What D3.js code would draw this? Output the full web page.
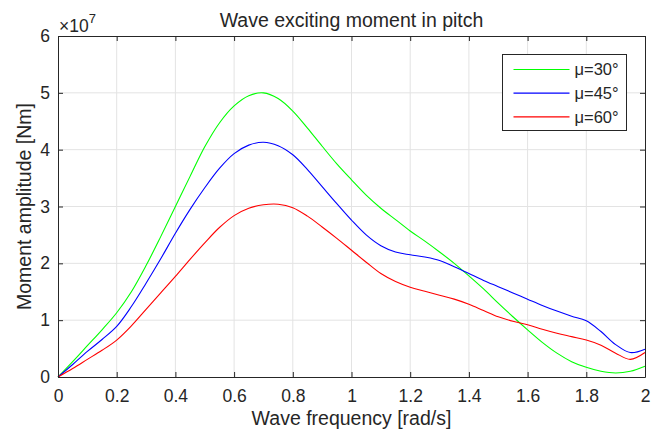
<!DOCTYPE html>
<head>
  <meta charset="utf-8">
  <script src="https://d3js.org/d3.v7.min.js"></script>
  <style>
    body { margin: 0; background: #fff; }
    svg text { font-family: "Liberation Sans", Arial, sans-serif; fill: #262626; }
  </style>
</head>
<body>
<div id="root"></div>
<script>
// frequency [rad/s], 0 to 2 in steps of 0.05
var freq = [0, 0.05, 0.1, 0.15, 0.2, 0.25, 0.3, 0.35, 0.4, 0.45, 0.5, 0.55, 0.6, 0.65, 0.7, 0.75, 0.8, 0.85, 0.9, 0.95,
            1.0, 1.05, 1.1, 1.15, 1.2, 1.25, 1.3, 1.35, 1.4, 1.45, 1.5, 1.55, 1.6, 1.65, 1.7, 1.75, 1.8, 1.85, 1.9, 1.95, 2.0];
// moment amplitude, x 1e7 Nm
var mu30 = [0, 0.27, 0.55, 0.83, 1.13, 1.5, 1.96, 2.47, 3.0, 3.53, 4.05, 4.47, 4.77, 4.95, 5.0, 4.9, 4.68, 4.38, 4.06, 3.75,
            3.47, 3.2, 2.97, 2.77, 2.57, 2.39, 2.2, 2.0, 1.78, 1.55, 1.3, 1.06, 0.83, 0.61, 0.42, 0.27, 0.17, 0.1, 0.07, 0.1, 0.19];
var mu45 = [0, 0.22, 0.45, 0.66, 0.89, 1.24, 1.65, 2.08, 2.53, 2.95, 3.33, 3.67, 3.93, 4.08, 4.13, 4.07, 3.91, 3.65, 3.35, 3.05,
            2.76, 2.5, 2.31, 2.2, 2.15, 2.11, 2.05, 1.94, 1.82, 1.7, 1.59, 1.48, 1.37, 1.26, 1.16, 1.07, 0.99, 0.8, 0.57, 0.43, 0.49];
var mu60 = [0, 0.15, 0.31, 0.47, 0.65, 0.9, 1.19, 1.48, 1.77, 2.07, 2.36, 2.63, 2.84, 2.97, 3.03, 3.04, 2.98, 2.83, 2.64, 2.44,
            2.23, 2.02, 1.82, 1.68, 1.58, 1.51, 1.44, 1.37, 1.28, 1.17, 1.06, 0.98, 0.92, 0.84, 0.77, 0.71, 0.65, 0.56, 0.42, 0.31, 0.43];
var seriesNames = ["μ=30°", "μ=45°", "μ=60°"];
var seriesColors = ["#00ff00", "#0000ff", "#ff0000"];
var xTicks = [0, 0.2, 0.4, 0.6, 0.8, 1, 1.2, 1.4, 1.6, 1.8, 2];
var yTicks = [0, 1, 2, 3, 4, 5, 6];

var W = 651, H = 438;
var margin = {top: 36, right: 6, bottom: 61, left: 58};
var width = W - margin.left - margin.right,
    height = H - margin.top - margin.bottom;

var svg = d3.select("#root").append("svg")
  .attr("width", W).attr("height", H);
var g = svg.append("g")
  .attr("transform", "translate(" + margin.left + "," + margin.top + ")");

var x = d3.scaleLinear().domain([0, 2]).range([0, width]);
var y = d3.scaleLinear().domain([0, 6]).range([height, 0]);

// grid
g.append("g").selectAll("line").data(xTicks.slice(1, -1)).enter().append("line")
  .attr("x1", d => x(d)).attr("x2", d => x(d))
  .attr("y1", 0).attr("y2", height)
  .attr("stroke", "#e3e3e3").attr("stroke-width", 1);
g.append("g").selectAll("line").data(yTicks.slice(1, -1)).enter().append("line")
  .attr("y1", d => y(d)).attr("y2", d => y(d))
  .attr("x1", 0).attr("x2", width)
  .attr("stroke", "#e3e3e3").attr("stroke-width", 1);

// curves
var allSeries = [mu30, mu45, mu60];
var line = d3.line()
  .x((d, i) => x(freq[i]))
  .y(d => y(d))
  .curve(d3.curveCatmullRom.alpha(0.5));
g.append("g").selectAll("path").data(allSeries).enter().append("path")
  .attr("d", line)
  .attr("fill", "none")
  .attr("stroke", (d, i) => seriesColors[i])
  .attr("stroke-width", 1.1);

// axes (box with inward ticks)
var fmt = d => d3.format("")(d);
var axB = g.append("g").attr("transform", "translate(0," + height + ")")
  .call(d3.axisBottom(x).tickValues(xTicks).tickSizeInner(-5).tickSizeOuter(0).tickPadding(13).tickFormat(fmt));
var axT = g.append("g")
  .call(d3.axisTop(x).tickValues(xTicks).tickSizeInner(-5).tickSizeOuter(0).tickFormat(""));
var axL = g.append("g")
  .call(d3.axisLeft(y).tickValues(yTicks).tickSizeInner(-5).tickSizeOuter(0).tickPadding(8).tickFormat(fmt));
var axR = g.append("g").attr("transform", "translate(" + width + ",0)")
  .call(d3.axisRight(y).tickValues(yTicks).tickSizeInner(-5).tickSizeOuter(0).tickFormat(""));
[axB, axT, axL, axR].forEach(function(a) {
  a.select(".domain").attr("stroke", "#262626");
  a.selectAll(".tick line").attr("stroke", "#262626");
  a.selectAll("text").style("font-size", "17.5px").attr("fill", "#262626");
});

// exponent label
var ex = g.append("text").attr("x", 1).attr("y", -4).style("font-size", "17.5px");
ex.append("tspan").text("×10");
ex.append("tspan").attr("dy", -9).style("font-size", "13px").text("7");

// title and labels
svg.append("text").attr("x", margin.left + width / 2).attr("y", 27)
  .attr("text-anchor", "middle").style("font-size", "19.5px").text("Wave exciting moment in pitch");
svg.append("text").attr("x", margin.left + width / 2).attr("y", 425)
  .attr("text-anchor", "middle").style("font-size", "19.5px").text("Wave frequency [rad/s]");
svg.append("text").attr("transform", "translate(31," + (margin.top + height / 2) + ") rotate(-90)")
  .attr("text-anchor", "middle").style("font-size", "19.5px").text("Moment amplitude [Nm]");

// legend
var lg = svg.append("g").attr("transform", "translate(502.5,54.5)");
lg.append("rect").attr("width", 124).attr("height", 76)
  .attr("fill", "#fff").attr("stroke", "#262626").attr("stroke-width", 1);
var rows = lg.selectAll("g.row").data(seriesNames).enter().append("g")
  .attr("transform", (d, i) => "translate(0," + (15 + i * 23.7) + ")");
rows.append("line").attr("x1", 11).attr("x2", 67)
  .attr("stroke", (d, i) => seriesColors[i]).attr("stroke-width", 1.2);
rows.append("text").attr("x", 72).attr("dy", "0.35em")
  .style("font-size", "16.5px").text(d => d);
</script>
</body>
